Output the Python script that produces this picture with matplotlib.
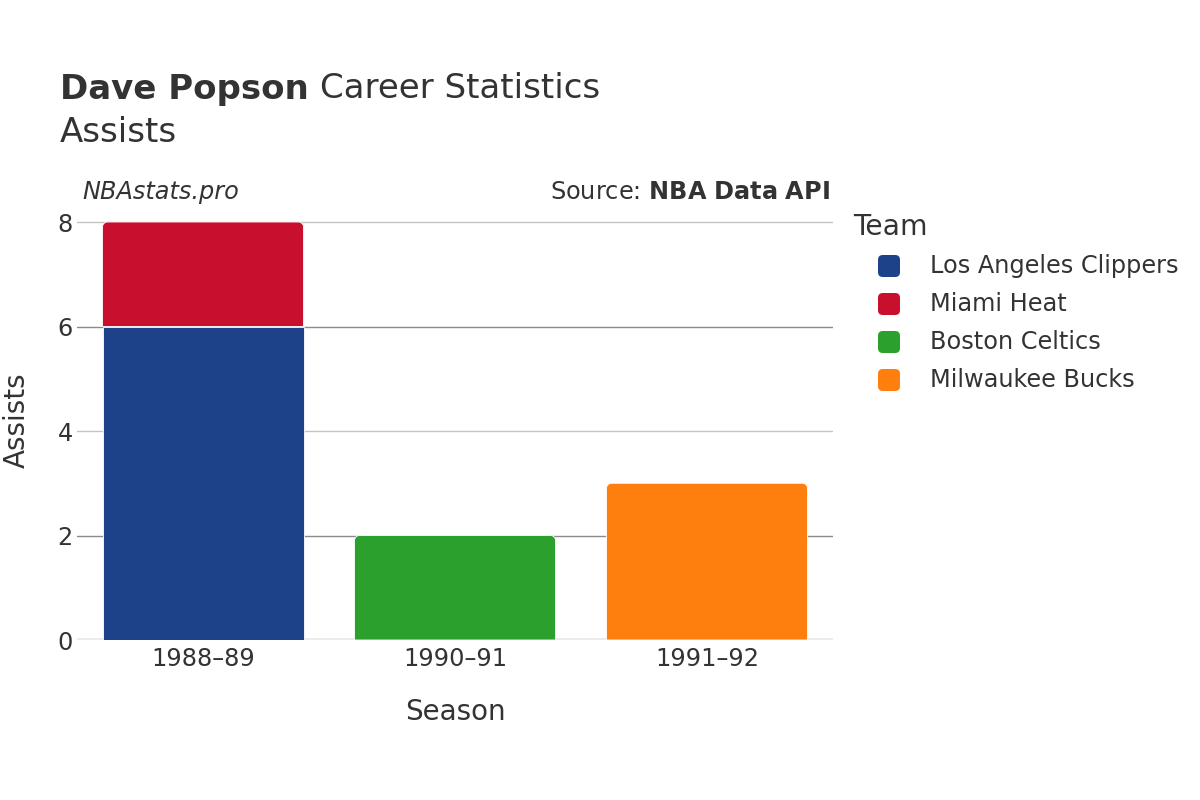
import matplotlib
matplotlib.use("Agg")
import matplotlib.pyplot as plt
from matplotlib.path import Path
from matplotlib.patches import PathPatch, FancyBboxPatch

plt.rcParams["font.family"] = ["DejaVu Sans"]

seasons = ["1988–89", "1990–91", "1991–92"]
teams = ["Los Angeles Clippers", "Miami Heat", "Boston Celtics", "Milwaukee Bucks"]
colors = ["#1d428a", "#c8102e", "#2ca02c", "#ff7f0e"]
# assists per team per season (stacked)
clippers = [6, 0, 0]
heat = [2, 0, 0]
celtics = [0, 2, 0]
bucks = [0, 0, 3]
series = [clippers, heat, celtics, bucks]
yticks = [0, 2, 4, 6, 8]

W, H = 1200, 800
fig = plt.figure(figsize=(12, 8), dpi=100)
ax_l, ax_r, ax_b, ax_t = 77, 833, 640, 201
ax = fig.add_axes([ax_l / W, 1 - ax_b / H, (ax_r - ax_l) / W, (ax_b - ax_t) / H])
ymax = 8 * (ax_b - ax_t) / (640 - 222)
ax.set_xlim(-0.5, 2.5)
ax.set_ylim(0, ymax)
for s in ax.spines.values():
    s.set_visible(False)

px_x = 3.0 / (ax_r - ax_l)
px_y = ymax / (ax_b - ax_t)

# gridlines
for t in yticks[1:]:
    c = "#8a8a8a" if t in (2, 6) else "#c4c4c4"
    ax.axhline(t, color=c, lw=1, zorder=0)
ax.axhline(0, color="#ebebeb", lw=3.5, zorder=0.5)

barw = 201 / 252.0


def bar_path(x0, x1, y0, y1, r_px=5, round_top=True):
    rx, ry = r_px * px_x, r_px * px_y
    if not round_top:
        verts = [(x0, y0), (x0, y1), (x1, y1), (x1, y0), (x0, y0)]
        codes = [Path.MOVETO, Path.LINETO, Path.LINETO, Path.LINETO, Path.CLOSEPOLY]
        return Path(verts, codes)
    k = 0.55
    verts = [(x0, y0), (x0, y1 - ry),
             (x0, y1 - ry + k * ry), (x0 + rx - k * rx, y1), (x0 + rx, y1),
             (x1 - rx, y1),
             (x1 - rx + k * rx, y1), (x1, y1 - ry + k * ry), (x1, y1 - ry),
             (x1, y0), (x0, y0)]
    codes = [Path.MOVETO, Path.LINETO,
             Path.CURVE4, Path.CURVE4, Path.CURVE4,
             Path.LINETO,
             Path.CURVE4, Path.CURVE4, Path.CURVE4,
             Path.LINETO, Path.CLOSEPOLY]
    return Path(verts, codes)


for i in range(len(seasons)):
    bottom = 0
    nonzero = [j for j in range(len(series)) if series[j][i] > 0]
    for j in nonzero:
        v = series[j][i]
        top = j == nonzero[-1]
        p = bar_path(i - barw / 2, i + barw / 2, bottom, bottom + v, round_top=top)
        ax.add_patch(PathPatch(p, facecolor=colors[j], edgecolor="white", lw=0.6, zorder=2))
        bottom += v

ax.set_xticks(range(len(seasons)))
ax.set_xticklabels(seasons)
ax.set_yticks(yticks)
ax.set_yticklabels([str(t) for t in yticks])
ax.tick_params(axis="both", length=0, labelsize=17.3, colors="#333333")
ax.tick_params(axis="x", pad=5)
ax.tick_params(axis="y", pad=3)

TC = "#333333"
fig.text(455 / W, 1 - 712 / H, "Season", fontsize=20, color=TC, va="center", ha="center")
fig.text(17 / W, 1 - 420 / H, "Assists", fontsize=20, color=TC, va="center", ha="center", rotation=90)

# titles
t1 = fig.text(60 / W, 1 - 89 / H, "Dave Popson", fontsize=24.5, fontweight="bold", color=TC, va="center")
fig.canvas.draw()
bb = t1.get_window_extent(renderer=fig.canvas.get_renderer())
fig.text((bb.x1 + 11) / W, 1 - 89 / H, "Career Statistics", fontsize=24.5, color=TC, va="center")
fig.text(60 / W, 1 - 132 / H, "Assists", fontsize=24.5, color=TC, va="center")
fig.text(82 / W, 1 - 192 / H, "NBAstats.pro", fontsize=17.3, style="italic", color=TC, va="center")
fig.text(830 / W, 1 - 192 / H, r"Source: $\bf{NBA\ Data\ API}$", fontsize=17.3, color=TC, va="center", ha="right")

# legend
fig.text(853 / W, 1 - 227 / H, "Team", fontsize=20.3, color=TC, va="center")
for j, name in enumerate(teams):
    yc = 266 + 38 * j
    box = FancyBboxPatch((878 / W, 1 - (yc + 11) / H), 22 / W, 22 / H,
                         boxstyle="round,pad=0,rounding_size=0.004", transform=fig.transFigure,
                         facecolor=colors[j], edgecolor="none", mutation_aspect=1.5)
    fig.patches.append(box)
    fig.text(930 / W, 1 - yc / H, name, fontsize=17.3, color=TC, va="center")

fig.savefig("out.png", dpi=100)
